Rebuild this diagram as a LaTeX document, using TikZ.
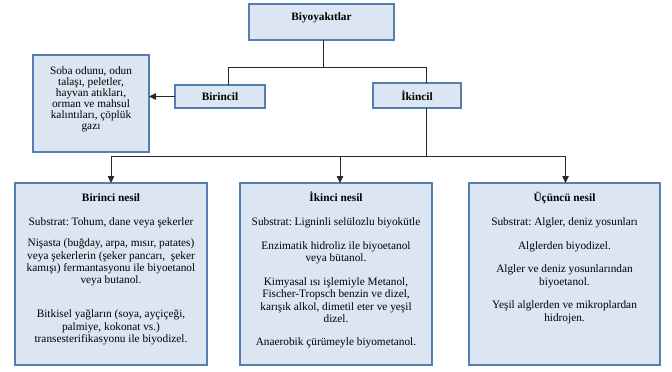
\documentclass[tikz,border=0pt]{standalone}
\usepackage{fontspec}
\setmainfont{Liberation Serif}
\usetikzlibrary{arrows.meta}
\definecolor{boxfill}{RGB}{220,230,242}
\definecolor{boxline}{RGB}{84,127,176}
\definecolor{connc}{RGB}{40,40,40}
\newcommand\topstrut{\rule{0pt}{9pt}}
\newcommand\bodyfont{\fontsize{11.3pt}{12.4pt}\selectfont}
\newcommand\sobafont{\fontsize{11.3pt}{11pt}\selectfont}
\frenchspacing
\begin{document}
\begin{tikzpicture}[x=1pt,y=-1pt,
 box/.style={draw=boxline, fill=boxfill, line width=1.4pt, inner sep=0pt, outer sep=0pt},
 txt/.style={font=\bodyfont, inner sep=0pt, anchor=base},
 ttl/.style={font=\bodyfont\bfseries, inner sep=0pt, anchor=base},
 para/.style={font=\bodyfont, inner sep=0pt, align=center, anchor=north, yshift=9pt},
 smallpara/.style={font=\sobafont, inner sep=0pt, align=center, anchor=north, yshift=9pt},
 connl/.style={draw=connc, line width=0.8pt},
 arr/.style={connl, -{Triangle[length=7pt,width=6.5pt]}}]
\useasboundingbox (0,0) rectangle (672,372);

% boxes
\node[box, minimum width=145pt, minimum height=36pt] (bio) at (321.5,22) {};
\node[box, minimum width=116pt, minimum height=97pt] (soba) at (91,103.5) {};
\node[box, minimum width=90pt, minimum height=23pt] (bir) at (220,96.5) {};
\node[box, minimum width=88pt, minimum height=25pt] (iki) at (417,95.5) {};
\node[box, minimum width=192pt, minimum height=182pt] (n1) at (111,274) {};
\node[box, minimum width=192pt, minimum height=182pt] (n2) at (336,274) {};
\node[box, minimum width=191pt, minimum height=182pt] (n3) at (564.5,274) {};

% top texts
\node[ttl] (tbio) at (321.5,20.5) {Biyoyakıtlar};
\node[ttl] (tbir) at (220,100.3) {Birincil};
\node[ttl] (tiki) at (417,100) {İkincil};
\node[smallpara] (tsoba) at (91,74.2) {\sobafont\topstrut Soba odunu, odun\\ talaşı, peletler,\\ hayvan atıkları,\\ orman ve mahsul\\ kalıntıları, çöplük\\ gazı};

% first generation
\node[ttl] (t1) at (111,201) {Birinci nesil};
\node[txt] (s1) at (111,225) {Substrat: Tohum, dane veya şekerler};
\node[para] (p1a) at (111,246.5) {\bodyfont\topstrut Nişasta (buğday, arpa, mısır, patates)\\ veya şekerlerin (şeker pancarı,\ \ şeker\\ kamışı) fermantasyonu ile biyoetanol\\ veya butanol.};
\node[para] (p1b) at (111,317.5) {\bodyfont\topstrut Bitkisel yağların (soya, ayçiçeği,\\ palmiye, kokonat vs.)\\ transesterifikasyonu ile biyodizel.};

% second generation
\node[ttl] (t2) at (336,201) {İkinci nesil};
\node[txt] (s2) at (336,225) {Substrat: Ligninli selülozlu biyokütle};
\node[para] (p2a) at (336,249) {\bodyfont\topstrut Enzimatik hidroliz ile biyoetanol\\ veya bütanol.};
\node[para] (p2b) at (336,285) {\bodyfont\topstrut Kimyasal ısı işlemiyle Metanol,\\ Fischer-Tropsch benzin ve dizel,\\ karışık alkol, dimetil eter ve yeşil\\ dizel.};
\node[txt] (p2c) at (336,345) {Anaerobik çürümeyle biyometanol.};

% third generation
\node[ttl] (t3) at (564.5,201) {Üçüncü nesil};
\node[txt] (s3) at (564.5,225) {Substrat: Algler, deniz yosunları};
\node[txt] (p3a) at (564.5,249) {Alglerden biyodizel.};
\node[para] (p3b) at (564.5,272.5) {\bodyfont\topstrut Algler ve deniz yosunlarından\\ biyoetanol.};
\node[para] (p3c) at (564.5,308.5) {\bodyfont\topstrut Yeşil alglerden ve mikroplardan\\ hidrojen.};

% connectors
\coordinate (j1) at (323,67);
\coordinate (j2) at (426,156);
\draw[connl] (bio.south -| j1) -- (j1);
\draw[connl] ([xshift=8pt]bir.north) -- ([xshift=8pt]bir.north |- j1) -- ([xshift=9pt]iki.north |- j1) -- ([xshift=9pt]iki.north);
\draw[arr] (bir.west) -- (soba.east |- bir.west);
\draw[connl] ([xshift=9pt]iki.south) -- (j2);
\draw[connl] (n1.north |- j2) -- ([xshift=1pt]n3.north |- j2);
\draw[arr] (n1.north |- j2) -- (n1.north);
\draw[arr] ([xshift=4pt]n2.north |- j2) -- ([xshift=4pt]n2.north);
\draw[arr] ([xshift=1pt]n3.north |- j2) -- ([xshift=1pt]n3.north);
\end{tikzpicture}
\end{document}
